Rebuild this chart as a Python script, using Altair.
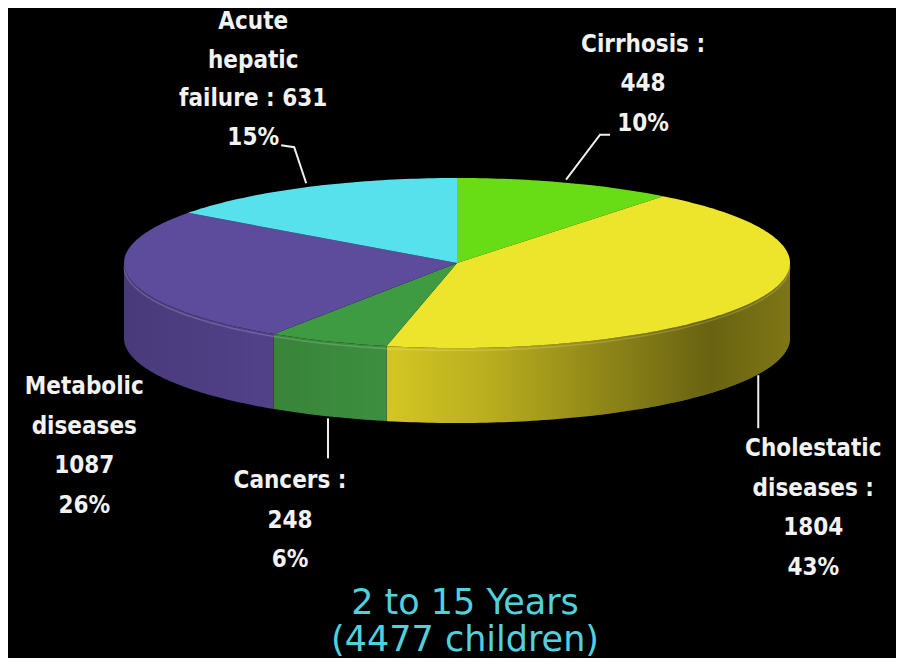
import altair as alt
import numpy as np
import pandas as pd

# ---------------- data ----------------
categories = ["Cirrhosis", "Cholestatic diseases", "Cancers", "Metabolic diseases", "Acute hepatic failure"]
counts = [448, 1804, 248, 1087, 631]
label_lines = [
    ["Cirrhosis :", "448", "10%"],
    ["Cholestatic", "diseases :", "1804", "43%"],
    ["Cancers :", "248", "6%"],
    ["Metabolic", "diseases", "1087", "26%"],
    ["Acute", "hepatic", "failure : 631", "15%"],
]
title_lines = ["2 to 15 Years", "(4477 children)"]

# ---------------- style / layout ----------------
top_colors = ["#68dc14", "#ede42c", "#3e9b41", "#5d4b9c", "#56e1ed"]
side_colors = ["#58c012", "#d2c523", "#3d8f3f", "#584795", "#45c0cc"]
W, H = 888, 650
CX, CY, RX, RY, DEPTH = 449, 255, 333, 85, 75
line_heights = [39.5, 39.5, 39.5, 39.5, 38.5]
# label offsets from slice anchor (first line centre) and leader paths
label_offset = [(77, -138), (55, 75), (-38, 65), (-45, 34), (-53, -165)]
leader_paths = [
    [(0, -3), (34, -48), (44, -48)],
    [(0, 1), (0, 54)],
    [(0, 2), (0, 42)],
    [],
    [(0, -4), (-12, -40), (-25, -42)],
]

total = sum(counts)
cum = np.cumsum([0] + counts)
starts = cum[:-1] / total * 360.0
ends = cum[1:] / total * 360.0


def ex(a):
    return CX + RX * np.sin(np.radians(a))


def ey(a):
    return CY - RY * np.cos(np.radians(a))


def arc_angles(a0, a1):
    inner = np.arange(np.floor(a0) + 1, a1, 1.0)
    return np.concatenate([[a0], inner, [a1]])


# top faces
top_rows = []
for i, cat in enumerate(categories):
    pts = [(CX, CY)] + [(ex(a), ey(a)) for a in arc_angles(starts[i], ends[i])]
    for k, (x, y) in enumerate(pts):
        top_rows.append(dict(category=cat, order=k, x=x, y=y))
top_df = pd.DataFrame(top_rows)

# side walls (front half: 90..270 deg)
side_rows = []
for i, cat in enumerate(categories):
    b0, b1 = max(starts[i], 90.0), min(ends[i], 270.0)
    if b1 > b0:
        for a in arc_angles(b0, b1):
            side_rows.append(dict(category=cat, x=ex(a), y=ey(a), y2=ey(a) + DEPTH))
side_df = pd.DataFrame(side_rows)

front_df = pd.DataFrame(
    [dict(x=ex(a), y=ey(a), y2=ey(a) + DEPTH, yb=ey(a) + 2.5) for a in arc_angles(90.0, 270.0)]
)

# labels & leaders
text_rows, lead_rows = [], []
for i, cat in enumerate(categories):
    m = (starts[i] + ends[i]) / 2.0
    ax_, ay_ = ex(m), ey(m)
    if 90 < m < 270:
        ay_ += DEPTH
    dx, dy = label_offset[i]
    for k, line in enumerate(label_lines[i]):
        text_rows.append(dict(category=cat, text=line, x=ax_ + dx, y=ay_ + dy + k * line_heights[i]))
    for k, (px, py) in enumerate(leader_paths[i]):
        lead_rows.append(dict(category=cat, order=k, x=ax_ + px, y=ay_ + py))
text_df = pd.DataFrame(text_rows)
lead_df = pd.DataFrame(lead_rows)
title_df = pd.DataFrame(dict(text=title_lines, x=[CX + 8, CX + 8], y=[595, 632]))

xs = alt.X("x:Q", scale=alt.Scale(domain=[0, W], nice=False, zero=False), axis=None)
ys = alt.Y("y:Q", scale=alt.Scale(domain=[0, H], nice=False, zero=False, reverse=True), axis=None)
ys_ns = alt.Y("y:Q", scale=alt.Scale(domain=[0, H], nice=False, zero=False, reverse=True), axis=None, stack=None)

side = alt.Chart(side_df).mark_area(interpolate="linear").encode(
    x=xs,
    y=ys_ns,
    y2="y2:Q",
    color=alt.Color("category:N", scale=alt.Scale(domain=categories, range=side_colors), legend=None),
    detail="category:N",
)

shade = alt.Chart(front_df).mark_area(
    interpolate="linear",
    color=alt.Gradient(
        gradient="linear",
        x1=0, x2=1, y1=0, y2=0,
        stops=[
            alt.GradientStop(color="rgba(0,0,0,0.18)", offset=0),
            alt.GradientStop(color="rgba(0,0,0,0.08)", offset=0.22),
            alt.GradientStop(color="rgba(0,0,0,0.0)", offset=0.40),
            alt.GradientStop(color="rgba(0,0,0,0.12)", offset=0.55),
            alt.GradientStop(color="rgba(0,0,0,0.32)", offset=0.72),
            alt.GradientStop(color="rgba(0,0,0,0.50)", offset=0.88),
            alt.GradientStop(color="rgba(0,0,0,0.40)", offset=1.0),
        ],
    ),
).encode(x=xs, y=ys_ns, y2="y2:Q")

bevel = alt.Chart(front_df).mark_line(color="#ffffff", opacity=0.18, strokeWidth=1.5).encode(
    x=xs,
    y=alt.Y("yb:Q", scale=alt.Scale(domain=[0, H], nice=False, zero=False, reverse=True), axis=None),
)

top = alt.Chart(top_df).mark_line(filled=True, interpolate="linear", strokeWidth=0).encode(
    x=xs,
    y=ys,
    color=alt.Color("category:N", scale=alt.Scale(domain=categories, range=top_colors), legend=None),
    detail="category:N",
    order="order:Q",
)

leaders = alt.Chart(lead_df).mark_line(color="#f0f0f0", strokeWidth=2).encode(
    x=xs, y=ys, detail="category:N", order="order:Q"
)

labels = alt.Chart(text_df).mark_text(
    font="DejaVu Sans Condensed, DejaVu Sans", fontSize=24, fontWeight="bold",
    color="#f2f2f2", align="center", baseline="middle",
).encode(x=xs, y=ys, text="text:N")

title = alt.Chart(title_df).mark_text(
    font="DejaVu Sans", fontSize=35, color="#4fd2dd", align="center", baseline="middle"
).encode(x=xs, y=ys, text="text:N")

chart = (
    alt.layer(side, shade, bevel, top, leaders, labels, title)
    .resolve_scale(color="independent")
    .properties(width=W, height=H, background="#000000", padding=0, autosize="none")
    .configure_view(stroke=None)
)

chart.save("out.html", embed_options={"renderer": "svg", "actions": False})
